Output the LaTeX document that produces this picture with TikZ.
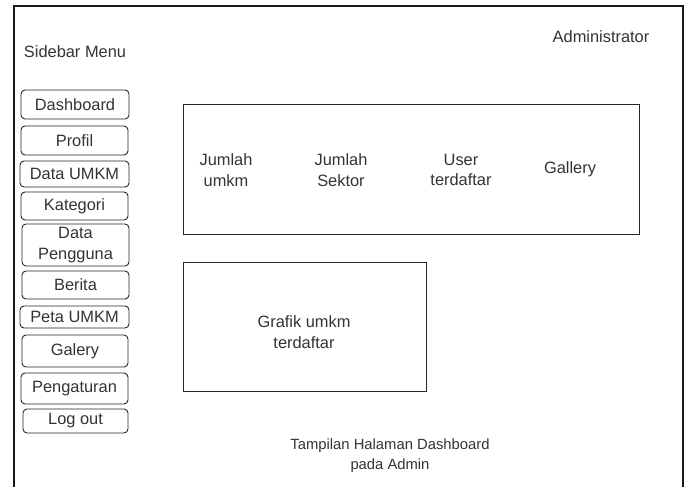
\documentclass[tikz,border=0pt]{standalone}
\usepackage{fontspec}
\setmainfont{Liberation Sans}
\begin{document}
\begin{tikzpicture}[x=1pt,y=-1pt,
  txt/.style={inner sep=0pt, align=center, text=black!80, font=\fontsize{16.4}{20.5}\selectfont},
  menu/.style={txt, draw=black!85, rounded corners=4pt, line width=0.9pt},
  panel/.style={draw=black!85, line width=1pt, inner sep=0pt},
  captxt/.style={inner sep=0pt, align=center, text=black!80, font=\fontsize{14.8}{20}\selectfont}]
\useasboundingbox (0,0) rectangle (686,487);
% outer frame
\coordinate (fbl) at (14,500);
\coordinate (ftl) at (14,6);
\coordinate (ftr) at (683,6);
\coordinate (fbr) at (683,500);
\draw[line width=1.3pt, black!90] (fbl) -- (ftl) -- (ftr) -- (fbr);
% titles
\node[txt] (sidebar) at (75,52) {Sidebar Menu};
\node[txt] (admin) at (601,37) {Administrator};
% menu buttons
\node[menu, minimum width=108pt, minimum height=29pt] (m1) at (75,104.5) {Dashboard};
\node[menu, minimum width=107pt, minimum height=29pt] (m2) at (74.5,140.5) {Profil};
\node[menu, minimum width=109pt, minimum height=26pt] (m3) at (74.5,174) {Data UMKM};
\node[menu, minimum width=107pt, minimum height=28pt] (m4) at (74.5,206) {Kategori};
\node[menu, minimum width=107pt, minimum height=42pt] (m5) at (75.5,245) {Data\\Pengguna};
\node[menu, minimum width=107pt, minimum height=28pt] (m6) at (75.5,285) {Berita};
\node[menu, minimum width=109pt, minimum height=22pt] (m7) at (74.5,317) {Peta UMKM};
\node[menu, minimum width=106pt, minimum height=32pt] (m8) at (75,351) {Galery};
\node[menu, minimum width=107pt, minimum height=31pt] (m9) at (74.5,388.5) {Pengaturan};
\node[menu, minimum width=105pt, minimum height=24pt] (m10) at (75.5,421) {Log out};
% top panel
\node[panel, minimum width=456pt, minimum height=129pt] (stats) at (411,169.5) {};
\node[txt] (s1) at (226,170) {Jumlah\\umkm};
\node[txt] (s2) at (341,170) {Jumlah\\Sektor};
\node[txt] (s3) at (461,170) {User\\terdaftar};
\node[txt] (s4) at (570,169) {Gallery};
% chart panel
\node[panel, minimum width=243pt, minimum height=129pt] (chart) at (304.5,326.5) {};
\node[txt] (charttxt) at (304,332) {Grafik umkm\\terdaftar};
% caption
\node[captxt] (caption) at (390,455.5) {Tampilan Halaman Dashboard\\pada Admin};
\end{tikzpicture}
\end{document}
